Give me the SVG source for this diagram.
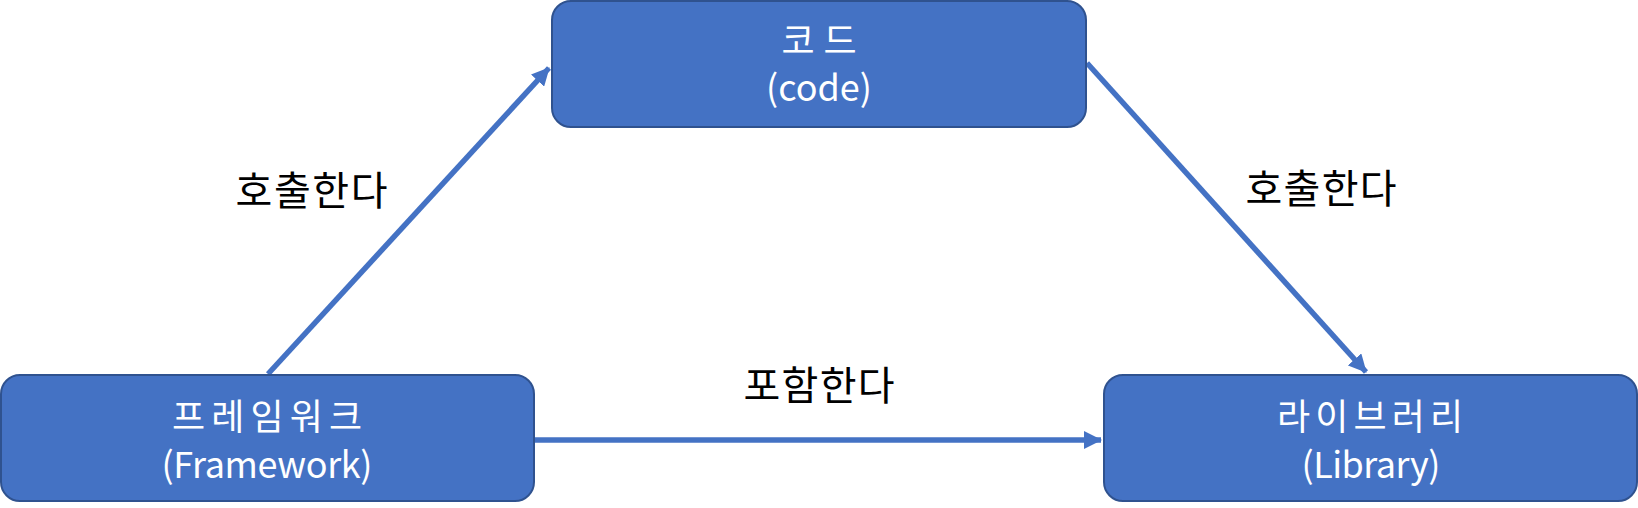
<svg xmlns="http://www.w3.org/2000/svg" width="1638" height="508" viewBox="0 0 1638 508">
<style>
.node{fill:#4472C4;stroke:#2F528F;stroke-width:2}
.nt{fill:#ffffff;font-family:"Noto Sans CJK KR","Noto Sans",sans-serif;font-size:36px;text-anchor:middle}
.lbl{fill:#000000;font-family:"Noto Sans CJK KR","Noto Sans",sans-serif;font-size:40px;text-anchor:middle}
.edge{stroke:#4472C4;stroke-width:5.5;fill:none}
</style>
<defs>
<marker id="ah" markerUnits="userSpaceOnUse" markerWidth="18" markerHeight="18" refX="17" refY="9" orient="auto">
<path d="M0,0 L18,9 L0,18 z" fill="#4472C4"/>
</marker>
</defs>
<g id="connectors">
<line class="edge" x1="268" y1="374" x2="549" y2="68" marker-end="url(#ah)"/>
<line class="edge" x1="1087" y1="63" x2="1366" y2="372" marker-end="url(#ah)"/>
<line class="edge" x1="535" y1="440" x2="1101" y2="440" marker-end="url(#ah)"/>
</g>
<g id="edge-labels">
<text class="lbl" x="311.5" y="205" textLength="152" lengthAdjust="spacing">호출한다</text>
<text class="lbl" x="1321" y="203" textLength="151" lengthAdjust="spacing">호출한다</text>
<text class="lbl" x="819" y="400" textLength="151" lengthAdjust="spacing">포함한다</text>
</g>
<g id="node-code">
<rect class="node" x="552" y="1" width="534" height="126" rx="19"/>
<text class="nt" x="819" y="54" textLength="75" lengthAdjust="spacing">코드</text>
<text class="nt" x="819" y="101" textLength="106" lengthAdjust="spacing">(code)</text>
</g>
<g id="node-framework">
<rect class="node" x="1" y="375" width="533" height="126" rx="19"/>
<text class="nt" x="267" y="430" textLength="190" lengthAdjust="spacing">프레임워크</text>
<text class="nt" x="267" y="478" textLength="211" lengthAdjust="spacing">(Framework)</text>
</g>
<g id="node-library">
<rect class="node" x="1104" y="375" width="533" height="126" rx="19"/>
<text class="nt" x="1370" y="430" textLength="186" lengthAdjust="spacing">라이브러리</text>
<text class="nt" x="1371" y="478" textLength="139" lengthAdjust="spacing">(Library)</text>
</g>
</svg>
